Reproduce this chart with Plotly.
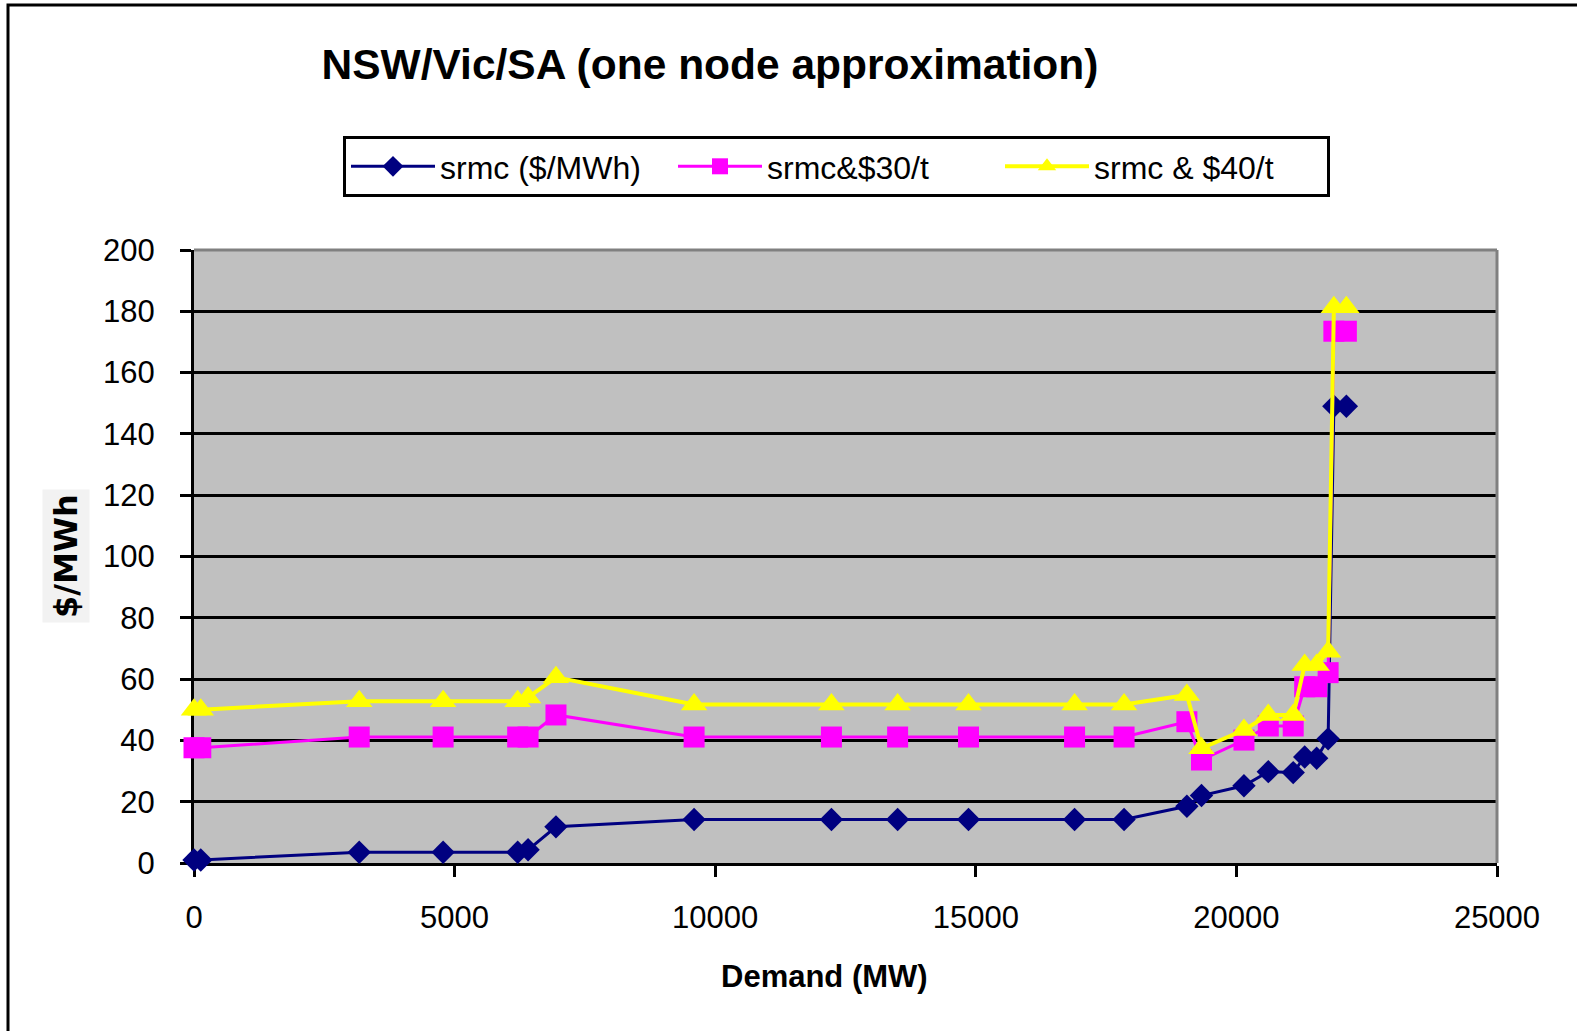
import plotly.graph_objects as go

# ---- data ----
demand_mw = [0, 130, 3170, 4780, 6210, 6410, 6945, 9595, 12230, 13500, 14860,
             16895, 17845, 19050, 19330, 20145, 20612, 21090, 21310, 21540,
             21760, 21870, 22110]
srmc = [1, 1, 3.5, 3.5, 3.5, 4.3, 11.8, 14.2, 14.2, 14.2, 14.2, 14.2, 14.2,
        18.5, 22, 25.2, 29.8, 29.5, 34.6, 34.2, 40.5, 149, 149]
srmc_30 = [37.6, 37.6, 41.1, 41.1, 41.1, 41.1, 48.3, 41.1, 41.1, 41.1, 41.1,
           41.1, 41.1, 46.1, 33.6, 40.1, 44.7, 44.7, 57.5, 57.5, 62.1, 173.5, 173.5]
srmc_40 = [50, 50, 52.8, 52.8, 52.8, 54, 60.6, 51.7, 51.7, 51.7, 51.7, 51.7,
           51.7, 54.8, 37.4, 43.4, 48.3, 48.3, 64.6, 64.6, 68.9, 181.3, 181.3]
series_names = ["srmc ($/MWh)", "srmc&$30/t", "srmc & $40/t"]
x_ticks = [0, 5000, 10000, 15000, 20000, 25000]
y_ticks = [0, 20, 40, 60, 80, 100, 120, 140, 160, 180, 200]

W, H = 1577, 1031
L, R, T, B = 194, 1497, 250, 863
PW, PH = R - L, B - T

def px_x(p):
    return (p - L) / PW

def px_y(p):
    return (B - p) / PH

FONT = "Liberation Sans, Arial, sans-serif"

fig = go.Figure()
fig.add_trace(go.Scatter(
    x=demand_mw, y=srmc, name=series_names[0], mode="lines+markers",
    line=dict(color="#000080", width=3),
    marker=dict(symbol="diamond", size=18, color="#000080"),
    cliponaxis=False))
fig.add_trace(go.Scatter(
    x=demand_mw, y=srmc_30, name=series_names[1], mode="lines+markers",
    line=dict(color="#FF00FF", width=3),
    marker=dict(symbol="square", size=21, color="#FF00FF"),
    cliponaxis=False))
fig.add_trace(go.Scatter(
    x=demand_mw, y=srmc_40, name=series_names[2], mode="lines+markers",
    line=dict(color="#FFFF00", width=4),
    marker=dict(symbol="triangle-up", size=23, color="#FFFF00"),
    cliponaxis=False))

fig.update_layout(
    width=W, height=H,
    margin=dict(l=L, r=W - R, t=T, b=H - B, pad=0),
    paper_bgcolor="white",
    plot_bgcolor="#C0C0C0",
    font=dict(family=FONT, size=31, color="black"),
    title=dict(text="NSW/Vic/SA (one node approximation)",
               font=dict(family=FONT, size=42.5, weight="bold", color="black"),
               x=710 / W, xref="container", xanchor="center",
               y=1 - 64 / H, yref="container", yanchor="middle"),
    showlegend=True,
    legend=dict(orientation="h", x=px_x(343), xanchor="left",
                y=px_y(136), yanchor="top",
                bgcolor="white", bordercolor="black", borderwidth=3,
                font=dict(family=FONT, size=32, color="black"),
                itemwidth=84, entrywidth=228, tracegroupgap=0),
)

fig.update_xaxes(
    range=[0, 25000], tickvals=x_ticks, ticktext=[str(v) for v in x_ticks],
    showgrid=False, zeroline=False,
    showline=True, linecolor="black", linewidth=3,
    ticks="outside", ticklen=11, tickwidth=3, tickcolor="black",
    ticklabelstandoff=14, layer="below traces",
    tickfont=dict(family=FONT, size=31, color="black"))
fig.update_yaxes(
    range=[0, 200], tickvals=y_ticks, ticktext=[str(v) for v in y_ticks],
    showgrid=True, gridcolor="black", gridwidth=3, zeroline=False,
    showline=True, linecolor="black", linewidth=3,
    ticks="outside", ticklen=11, tickwidth=3, tickcolor="black",
    ticklabelstandoff=19, layer="below traces",
    tickfont=dict(family=FONT, size=31, color="black"))

# plot-area top/right border (grey) and outer chart frame
fig.add_shape(type="line", xref="paper", yref="paper", x0=0, x1=1, y0=1, y1=1,
              line=dict(color="#808080", width=3), layer="above")
fig.add_shape(type="line", xref="paper", yref="paper", x0=1, x1=1, y0=0, y1=1,
              line=dict(color="#808080", width=3), layer="above")
fig.add_shape(type="rect", xref="paper", yref="paper",
              x0=px_x(8), x1=px_x(1700), y0=px_y(1200), y1=px_y(5),
              line=dict(color="black", width=3), fillcolor="rgba(0,0,0,0)",
              layer="above")

# axis titles
fig.add_annotation(text="Demand (MW)", xref="paper", yref="paper",
                   x=px_x(824), y=px_y(976), xanchor="center", yanchor="middle",
                   showarrow=False,
                   font=dict(family=FONT, size=31, weight="bold", color="black"))
fig.add_annotation(text="$/MWh", xref="paper", yref="paper",
                   x=px_x(66), y=px_y(556), xanchor="center", yanchor="middle",
                   textangle=-90, showarrow=False, bgcolor="#F2F2F2", borderpad=4,
                   font=dict(family="DejaVu Sans", size=32, weight="bold", color="black"))

fig.write_html("out.html")
